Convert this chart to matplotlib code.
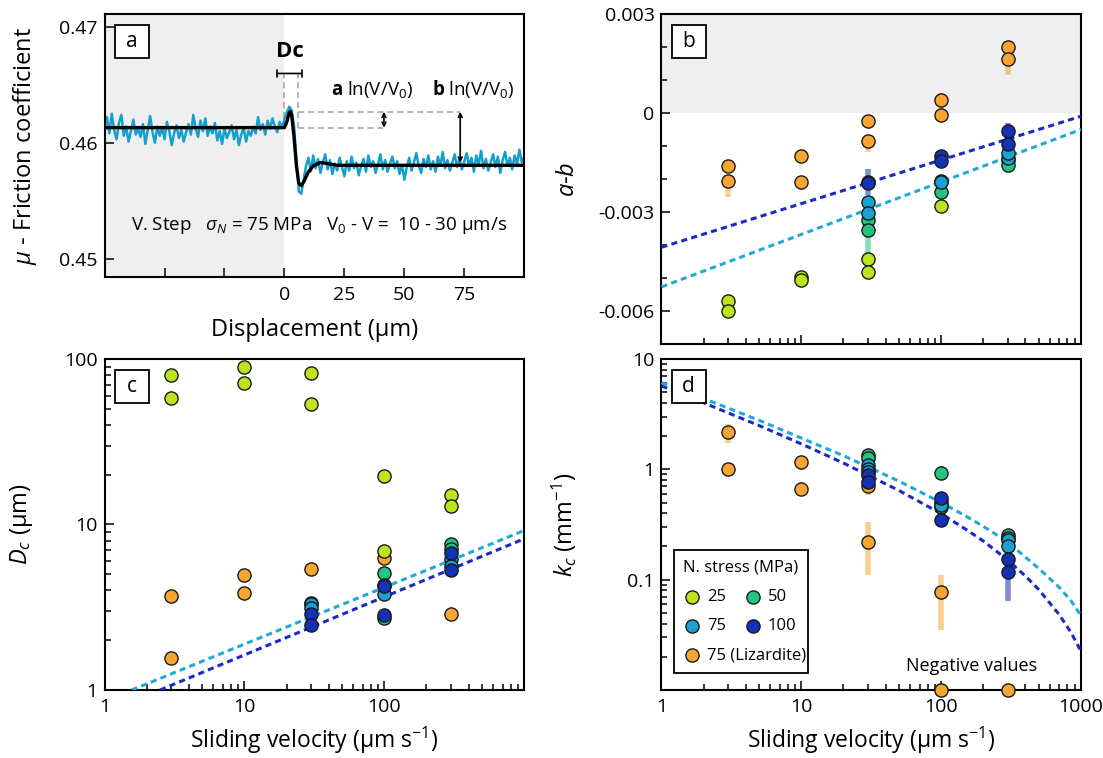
import numpy as np
import matplotlib.pyplot as plt
from matplotlib.patches import Rectangle
from matplotlib.ticker import LogLocator, NullFormatter, MultipleLocator

plt.rcParams['font.family'] = ['Open Sans', 'DejaVu Sans']
plt.rcParams['mathtext.fontset'] = 'custom'
plt.rcParams['mathtext.rm'] = 'Open Sans'
plt.rcParams['mathtext.it'] = 'Open Sans:italic'
plt.rcParams['mathtext.bf'] = 'Open Sans:bold'

# colours
c25 = '#bde51b'
c50 = '#22c77f'
c75 = '#1ba1d1'
c100 = '#1432b5'
cliz = '#f9a531'
fit_dark = '#1a2ac2'
fit_light = '#21a9d9'

# ---- panel a : velocity step (displacement in um, friction) ----
disp = np.arange(-75, 101)
mu_meas = [0.4613, 0.4622, 0.4608, 0.4625, 0.4611, 0.4603, 0.4617, 0.4624, 0.4606, 0.4614,
           0.4601, 0.4610, 0.4620, 0.4607, 0.4612, 0.4605, 0.4616, 0.4599, 0.4611, 0.4623,
           0.4609, 0.4600, 0.4614, 0.4606, 0.4613, 0.4603, 0.4618, 0.4610, 0.4598, 0.4608,
           0.4615, 0.4604, 0.4611, 0.4601, 0.4609, 0.4616, 0.4607, 0.4624, 0.4612, 0.4605,
           0.4619, 0.4610, 0.4621, 0.4606, 0.4614, 0.4608, 0.4617, 0.4602, 0.4610, 0.4599,
           0.4612, 0.4604, 0.4609, 0.4615, 0.4603, 0.4611, 0.4598, 0.4607, 0.4613, 0.4601,
           0.4610, 0.4606, 0.4614, 0.4608, 0.4622, 0.4611, 0.4616, 0.4607, 0.4619, 0.4612,
           0.4621, 0.4614, 0.4609, 0.4618, 0.4613,
           0.4620, 0.4626, 0.4631, 0.4628, 0.4615, 0.4585, 0.4558, 0.4556, 0.4568, 0.4580,
           0.4587, 0.4575, 0.4589, 0.4578, 0.4586, 0.4574, 0.4583, 0.4590, 0.4577, 0.4585,
           0.4573, 0.4582, 0.4576, 0.4587, 0.4579, 0.4571, 0.4584, 0.4576, 0.4588, 0.4578,
           0.4583, 0.4572, 0.4580, 0.4586, 0.4575, 0.4589, 0.4579, 0.4584, 0.4574, 0.4581,
           0.4590, 0.4577, 0.4585, 0.4575, 0.4582, 0.4588, 0.4578, 0.4584, 0.4573, 0.4581,
           0.4568, 0.4579, 0.4587, 0.4576, 0.4583, 0.4591, 0.4580, 0.4574, 0.4586, 0.4579,
           0.4589, 0.4577, 0.4584, 0.4575, 0.4588, 0.4580, 0.4592, 0.4578, 0.4585, 0.4576,
           0.4583, 0.4590, 0.4579, 0.4586, 0.4577, 0.4584, 0.4591, 0.4580, 0.4587, 0.4575,
           0.4589, 0.4581, 0.4593, 0.4578, 0.4586, 0.4576, 0.4583, 0.4590, 0.4579, 0.4588,
           0.4574, 0.4585, 0.4592, 0.4580, 0.4587, 0.4577, 0.4589, 0.4582, 0.4594, 0.4583,
           0.4588]
model_disp = [-75, 0, 1, 2, 2.5, 3, 4, 5, 6, 7, 8, 10, 12, 15, 18, 22, 100]
model_mu = [0.4613, 0.4613, 0.4618, 0.4626, 0.4627, 0.4624, 0.4605, 0.4580, 0.4565,
            0.4563, 0.4566, 0.4575, 0.4580, 0.4583, 0.4582, 0.45805, 0.45805]
mu_peak = 0.46267
mu_ss0 = 0.46129
mu_ss1 = 0.45828
dc_end = 5.6

# ---- panel b : a-b ----
b_x_liz = [3, 3, 10, 10, 30, 30, 100, 100, 300, 300]
b_y_liz = [-0.0016, -0.00206, -0.00129, -0.0021, -0.00023, -0.00086, 0.00039, -0.00005, 0.00201, 0.00163]
b_x_25 = [3, 3, 10, 10, 30, 30, 100]
b_y_25 = [-0.0057, -0.0060, -0.00496, -0.00506, -0.00443, -0.00481, -0.00283]
b_x_50 = [30, 30, 100, 100, 300, 300]
b_y_50 = [-0.00325, -0.00355, -0.00205, -0.00240, -0.00142, -0.00158]
b_x_75 = [30, 30, 100, 300, 300]
b_y_75 = [-0.00271, -0.00303, -0.00210, -0.00135, -0.00122]
b_x_100 = [30, 30, 100, 100, 300, 300]
b_y_100 = [-0.00208, -0.00212, -0.0013, -0.00145, -0.00054, -0.00094]
b_err_x = [3, 30, 30, 100, 300, 30, 300, 30, 300]
b_err_lo = [-0.00254, -0.00117, -0.0004, 0.00005, 0.00114, -0.0025, -0.0010, -0.00427, -0.00183]
b_err_hi = [-0.00206, -0.00086, -0.0001, 0.0006, 0.00163, -0.0017, -0.0003, -0.00325, -0.00140]
b_err_c = [cliz, cliz, cliz, cliz, cliz, c100, c100, c50, c50]
b_fit_x = [1, 1000]
b_fit_dark = [-0.00407, -0.00010]
b_fit_light = [-0.00527, -0.00050]

# ---- panel c : Dc ----
c_x_liz = [3, 3, 10, 10, 30, 100, 300]
c_y_liz = [3.70, 1.57, 4.95, 3.88, 5.36, 6.28, 2.88]
c_x_25 = [3, 3, 10, 10, 30, 30, 100, 100, 300, 300]
c_y_25 = [80.3, 58.4, 89.8, 71.4, 82.6, 53.7, 19.5, 6.93, 15.1, 12.9]
c_x_50 = [30, 100, 100, 300, 300]
c_y_50 = [3.35, 5.07, 2.71, 7.64, 7.1]
c_x_75 = [30, 30, 100, 100, 300, 300]
c_y_75 = [3.32, 3.15, 4.30, 3.79, 6.2, 5.6]
c_x_100 = [30, 30, 100, 100, 300, 300]
c_y_100 = [2.86, 2.47, 4.25, 2.84, 6.74, 5.33]
c_fit_light_x = [1.56, 1000]
c_fit_light_y = [1.0, 9.2]
c_fit_dark_x = [2.49, 1000]
c_fit_dark_y = [1.0, 8.2]

# ---- panel d : kc ----
d_x_liz = [3, 3, 10, 10, 30, 30, 100]
d_y_liz = [2.18, 1.0, 1.16, 0.67, 0.70, 0.218, 0.077]
d_x_neg = [100, 300]
d_y_neg = [0.01, 0.01]
d_x_50 = [30, 30, 100, 100, 300, 300]
d_y_50 = [1.35, 1.26, 0.93, 0.453, 0.254, 0.24]
d_x_75 = [30, 30, 30, 100, 100, 300, 300]
d_y_75 = [1.10, 1.00, 0.95, 0.51, 0.48, 0.229, 0.20]
d_x_100 = [30, 30, 100, 100, 300, 300]
d_y_100 = [0.89, 0.77, 0.547, 0.348, 0.153, 0.117]
d_err_x = [3, 3, 30, 30, 100, 30, 100, 300, 300, 100]
d_err_lo = [1.75, 0.88, 0.58, 0.11, 0.035, 1.2, 0.80, 0.22, 0.064, 0.30]
d_err_hi = [2.60, 1.12, 0.82, 0.33, 0.11, 1.5, 1.08, 0.28, 0.17, 0.40]
d_err_c = [cliz, cliz, cliz, cliz, cliz, c50, c50, c50, c100, c100]
d_fit_light_x = [1, 2, 5, 10, 20, 50, 100, 150, 200, 300, 400, 500, 700, 850, 1000]
d_fit_light_y = [6.1, 4.39, 2.78, 1.92, 1.33, 0.78, 0.50, 0.377, 0.304, 0.219, 0.160,
                 0.126, 0.085, 0.064, 0.047]
d_fit_dark_x = [1, 2, 5, 10, 20, 50, 100, 150, 200, 300, 400, 500, 700, 850, 1000]
d_fit_dark_y = [5.7, 4.01, 2.49, 1.70, 1.14, 0.642, 0.396, 0.286, 0.224, 0.150, 0.108,
                0.081, 0.048, 0.033, 0.0224]

fig = plt.figure(figsize=(11.03, 7.58), dpi=100)
axa = fig.add_axes([0.0948, 0.6342, 0.3805, 0.3474])
axb = fig.add_axes([0.5997, 0.5462, 0.3804, 0.4354])
axc = fig.add_axes([0.0948, 0.0897, 0.3805, 0.4367])
axd = fig.add_axes([0.5997, 0.0897, 0.3804, 0.4367])

MS = 90
fitls = (0, (2, 1.4))


def style(ax):
    for s in ax.spines.values():
        s.set_linewidth(1.5)
    ax.tick_params(which='both', direction='in', top=False, right=False, width=1.1, labelsize=14)
    ax.tick_params(which='major', length=6.5)
    ax.tick_params(which='minor', length=4.3)
    ax.tick_params(axis='x', pad=6)
    ax.tick_params(axis='y', pad=5)


def logx(ax, labels):
    ax.set_xscale('log')
    ax.set_xlim(1, 1000)
    ax.set_xticks([1, 10, 100, 1000], labels)
    ax.xaxis.set_minor_locator(LogLocator(base=10, subs=np.arange(2, 10)))
    ax.xaxis.set_minor_formatter(NullFormatter())


def panel_label(ax, letter, x0, y0, w, h):
    ax.add_patch(Rectangle((x0, y0), w, h, transform=ax.transAxes, fc='white', ec='k', lw=1.3, zorder=8))
    ax.text(x0 + w / 2, y0 + h / 2, letter, transform=ax.transAxes, ha='center', va='center',
            fontsize=15, zorder=9)


def dots(ax, x, y, c, **kw):
    return ax.scatter(x, y, s=MS, c=c, edgecolors='#1a1a1a', linewidths=1.0, zorder=4, **kw)


# panel a
axa.axvspan(-75, 0, color='#efefef', zorder=0, lw=0)
axa.plot(disp, mu_meas, color='#159fd0', lw=1.8, zorder=2)
axa.plot(model_disp, model_mu, color='k', lw=2.4, zorder=3)
gd = dict(color='#a0a0a0', lw=1.1, ls=(0, (4, 2.5)), zorder=1)
axa.plot([0, 0], [mu_ss0, 0.4660], **gd)
axa.plot([dc_end, dc_end], [mu_ss0, 0.4660], **gd)
axa.plot([dc_end, 73.4], [mu_peak, mu_peak], **gd)
axa.plot([dc_end, 41.1], [mu_ss0, mu_ss0], **gd)
axa.annotate('', xy=(41.5, mu_peak), xytext=(41.5, mu_ss0),
             arrowprops=dict(arrowstyle='<->', lw=1.2, color='k', shrinkA=0, shrinkB=0, mutation_scale=7))
axa.annotate('', xy=(73.3, mu_peak), xytext=(73.3, mu_ss1),
             arrowprops=dict(arrowstyle='<->', lw=1.2, color='k', shrinkA=0, shrinkB=0, mutation_scale=7))
axa.annotate('', xy=(-3, 0.46597), xytext=(7.3, 0.46597),
             arrowprops=dict(arrowstyle='|-|, widthA=0.25, widthB=0.25', lw=1.2, color='k',
                             shrinkA=0, shrinkB=0))
axa.text(2.3, 0.4679, 'Dc', fontweight='bold', fontsize=16, ha='center', va='center')
axa.text(19.6, 0.46459, r'$\mathbf{a}$ ln(V/V$_0$)', fontsize=13.5, ha='left', va='center')
axa.text(61.7, 0.46459, r'$\mathbf{b}$ ln(V/V$_0$)', fontsize=13.5, ha='left', va='center')
axa.text(14.6, 0.45283, r'V. Step   $\sigma_N$ = 75 MPa   V$_0$ - V =  10 - 30 µm/s',
         fontsize=13.5, ha='center', va='center')
axa.set_xlim(-75, 100)
axa.set_ylim(0.4484, 0.4711)
axa.set_xticks([-50, -25, 0, 25, 50, 75], ['', '', '0', '25', '50', '75'])
axa.set_yticks([0.45, 0.46, 0.47], ['0.45', '0.46', '0.47'])
axa.set_xlabel('Displacement (µm)', fontsize=17)
axa.set_ylabel(r'$\mu$ - Friction coefficient', fontsize=17)
style(axa)
axa.xaxis.set_label_coords(0.5, -0.155)
axa.yaxis.set_label_coords(-0.156, 0.5)
panel_label(axa, 'a', 0.025, 0.833, 0.081, 0.125)

# panel b
axb.axhspan(0, 0.004, color='#efefef', zorder=0, lw=0)
axb.vlines(b_err_x, b_err_lo, b_err_hi, colors=b_err_c, lw=4, alpha=0.55, zorder=2)
axb.plot(b_fit_x, b_fit_dark, color=fit_dark, lw=2.2, ls=fitls, zorder=3)
axb.plot(b_fit_x, b_fit_light, color=fit_light, lw=2.2, ls=fitls, zorder=3)
dots(axb, b_x_liz, b_y_liz, cliz)
dots(axb, b_x_25, b_y_25, c25)
dots(axb, b_x_50, b_y_50, c50)
dots(axb, b_x_75, b_y_75, c75)
dots(axb, b_x_100, b_y_100, c100)
logx(axb, ['', '', '', ''])
axb.set_ylim(-0.007, 0.003)
axb.set_yticks([-0.006, -0.003, 0, 0.003], ['-0.006', '-0.003', '0', '0.003'])
axb.yaxis.set_minor_locator(MultipleLocator(0.001))
axb.set_ylabel(r'$a$-$b$', fontsize=17)
style(axb)
axb.yaxis.set_label_coords(-0.193, 0.5)
panel_label(axb, 'b', 0.024, 0.867, 0.081, 0.1)

# panel c
axc.plot(c_fit_light_x, c_fit_light_y, color=fit_light, lw=2.2, ls=fitls, zorder=3)
axc.plot(c_fit_dark_x, c_fit_dark_y, color=fit_dark, lw=2.2, ls=fitls, zorder=3)
dots(axc, c_x_liz, c_y_liz, cliz)
dots(axc, c_x_25, c_y_25, c25)
dots(axc, c_x_50, c_y_50, c50)
dots(axc, c_x_75, c_y_75, c75)
dots(axc, c_x_100, c_y_100, c100)
logx(axc, ['1', '10', '100', ''])
axc.set_yscale('log')
axc.set_ylim(1, 100)
axc.set_yticks([1, 10, 100], ['1', '10', '100'])
axc.yaxis.set_minor_locator(LogLocator(base=10, subs=np.arange(2, 10)))
axc.yaxis.set_minor_formatter(NullFormatter())
axc.set_xlabel(r'Sliding velocity (µm s$^{-1}$)', fontsize=16.5)
axc.set_ylabel(r'$D_c$ (µm)', fontsize=17)
style(axc)
axc.xaxis.set_label_coords(0.5, -0.104)
axc.yaxis.set_label_coords(-0.166, 0.5)
panel_label(axc, 'c', 0.025, 0.868, 0.081, 0.1)

# panel d
axd.vlines(d_err_x, d_err_lo, d_err_hi, colors=d_err_c, lw=4, alpha=0.55, zorder=2)
axd.plot(d_fit_light_x, d_fit_light_y, color=fit_light, lw=2.2, ls=fitls, zorder=3)
axd.plot(d_fit_dark_x, d_fit_dark_y, color=fit_dark, lw=2.2, ls=fitls, zorder=3)
hliz = dots(axd, d_x_liz, d_y_liz, cliz)
dots(axd, d_x_neg, d_y_neg, cliz, clip_on=False)
h50 = dots(axd, d_x_50, d_y_50, c50)
h75 = dots(axd, d_x_75, d_y_75, c75)
h100 = dots(axd, d_x_100, d_y_100, c100)
h25 = axd.scatter([], [], s=MS, c=c25, edgecolors='#1a1a1a', linewidths=1.0)
logx(axd, ['1', '10', '100', '1000'])
axd.set_yscale('log')
axd.set_ylim(0.01, 10)
axd.set_yticks([0.1, 1, 10], ['0.1', '1', '10'])
axd.yaxis.set_minor_locator(LogLocator(base=10, subs=np.arange(2, 10)))
axd.yaxis.set_minor_formatter(NullFormatter())
axd.text(166, 0.0164, 'Negative values', fontsize=13, ha='center', va='center')
axd.set_xlabel(r'Sliding velocity (µm s$^{-1}$)', fontsize=16.5)
axd.set_ylabel(r'$k_c$ (mm$^{-1}$)', fontsize=17)
style(axd)
axd.xaxis.set_label_coords(0.5, -0.104)
axd.yaxis.set_label_coords(-0.197, 0.5)
panel_label(axd, 'd', 0.024, 0.868, 0.081, 0.1)
leg = axd.legend([h25, h75, hliz, h50, h100], ['25', '75', '75 (Lizardite)', '50', '100'],
                 ncol=2, loc='lower left', bbox_to_anchor=(0.0305, 0.052), borderaxespad=0,
                 title='N. stress (MPa)', fontsize=12, title_fontsize=12, fancybox=False,
                 edgecolor='k', framealpha=1, handlelength=0.78, handletextpad=0.5,
                 columnspacing=-3.6, borderpad=0.55, labelspacing=0.8)
leg.get_frame().set_linewidth(1.3)
leg.set_zorder(10)

fig.savefig('out.png', dpi=100)
